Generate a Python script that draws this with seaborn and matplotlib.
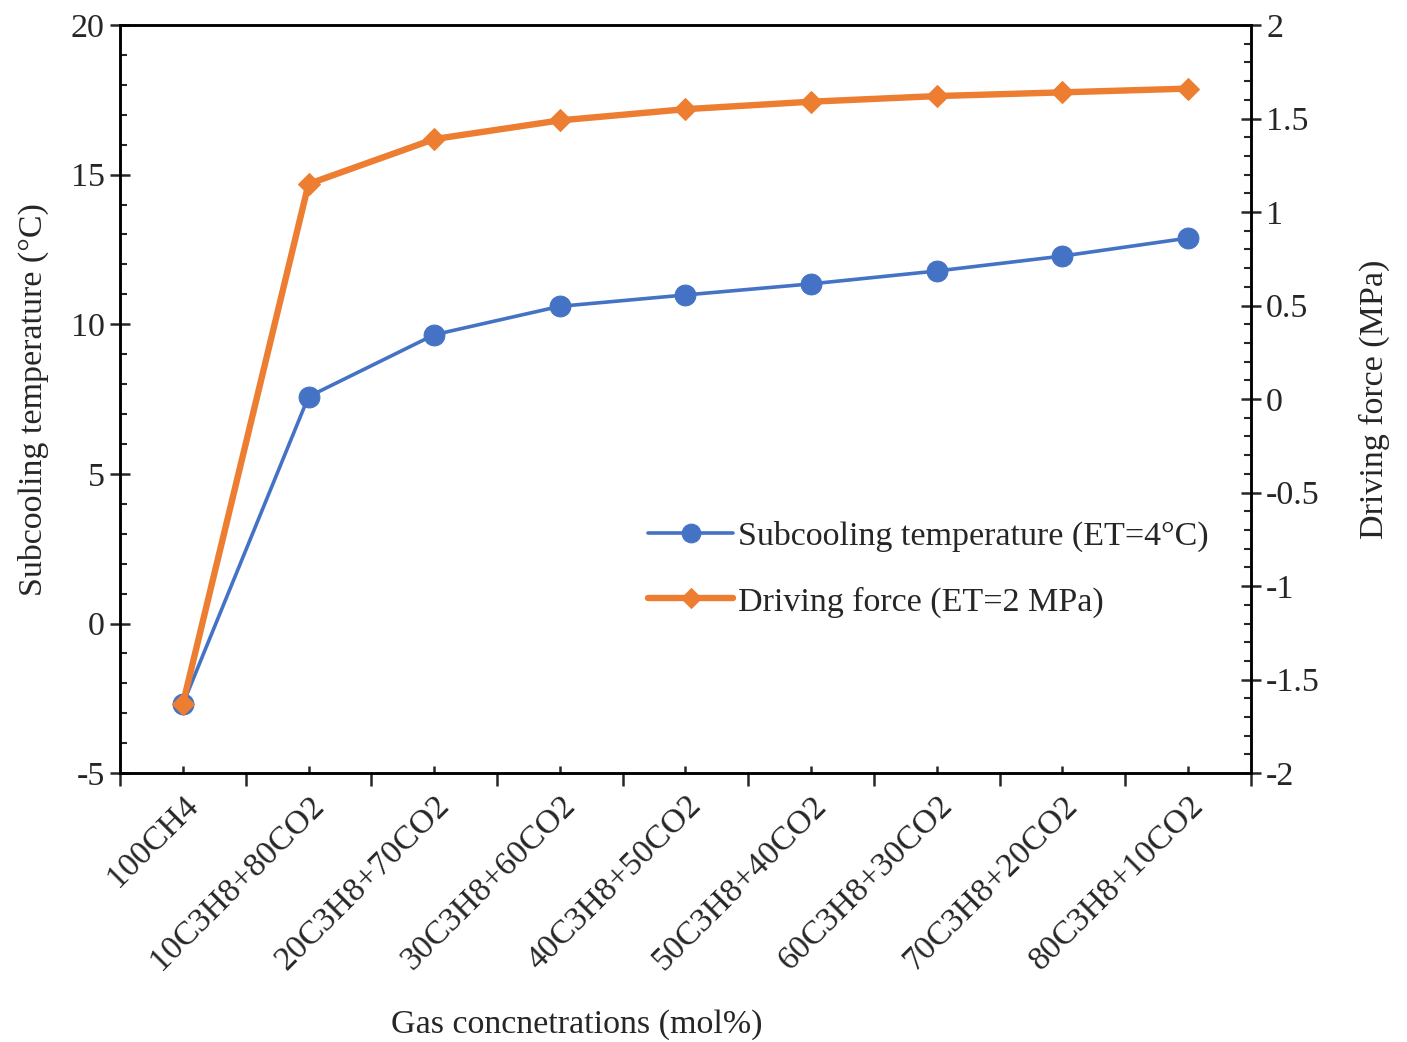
import matplotlib
matplotlib.use("Agg")
import matplotlib.pyplot as plt
import numpy as np
import pandas as pd
import seaborn as sns
from matplotlib.ticker import MultipleLocator, FixedLocator

# ── Data ──────────────────────────────────────────────────────────────────────
categories = [
    "100CH4", "10C3H8+80CO2", "20C3H8+70CO2", "30C3H8+60CO2", "40C3H8+50CO2",
    "50C3H8+40CO2", "60C3H8+30CO2", "70C3H8+20CO2", "80C3H8+10CO2",
]
subcooling = [-2.7, 7.58, 9.65, 10.6, 10.98, 11.35, 11.78, 12.28, 12.88]
driving_force = [-1.63, 1.15, 1.39, 1.49, 1.55, 1.59, 1.62, 1.64, 1.66]

BLUE = "#4472C4"
ORANGE = "#ED7D31"
FS = 24.5

df = pd.DataFrame({
    "pos": np.arange(len(categories)),
    "subcooling": subcooling,
    "driving": driving_force,
})

# ── Style ─────────────────────────────────────────────────────────────────────
sns.set_style("ticks")
plt.rcParams["font.family"] = ["Liberation Serif", "DejaVu Serif"]
plt.rcParams["axes.unicode_minus"] = False

fig = plt.figure(figsize=(14.07, 10.42), dpi=100)
ax = fig.add_axes([0.0853, 0.258, 0.8038, 0.718])
ax2 = ax.twinx()

sns.lineplot(data=df, x="pos", y="subcooling", ax=ax, color=BLUE, lw=2.6,
             marker="o", markersize=15, markeredgecolor=BLUE,
             label="Subcooling temperature (ET=4°C)", legend=False)
sns.lineplot(data=df, x="pos", y="driving", ax=ax2, color=ORANGE, lw=4.6,
             marker="D", markersize=11, markeredgecolor=ORANGE,
             label="Driving force (ET=2 MPa)", legend=False)

# ── Axes ──────────────────────────────────────────────────────────────────────
ax.set_xlim(-0.5, len(categories) - 0.5)
ax.set_ylim(-5, 20)
ax2.set_ylim(-2, 2)

ax.yaxis.set_major_locator(MultipleLocator(5))
ax.yaxis.set_minor_locator(MultipleLocator(1))
ax2.yaxis.set_major_locator(MultipleLocator(0.5))
ax2.yaxis.set_minor_locator(MultipleLocator(0.1))
ax2.set_yticklabels([f"{v:g}" for v in ax2.get_yticks()])

ax.xaxis.set_major_locator(FixedLocator(np.arange(len(categories) + 1) - 0.5))
ax.xaxis.set_minor_locator(FixedLocator(np.arange(len(categories))))
ax.set_xticklabels([])
ax.set_xticks(np.arange(len(categories)), labels=categories, minor=True)

for a in (ax, ax2):
    for s in a.spines.values():
        s.set_linewidth(1.8)
        s.set_color("black")

ax.tick_params(axis="y", which="major", direction="inout", length=14, width=1.8,
               labelsize=FS, pad=4)
ax.tick_params(axis="y", which="minor", direction="in", length=5, width=1.5)
ax2.tick_params(axis="y", which="major", direction="inout", length=14, width=1.8,
                labelsize=FS, pad=4)
ax2.tick_params(axis="y", which="minor", direction="in", length=5, width=1.5)
ax.tick_params(axis="x", which="major", direction="out", length=9, width=1.8)
ax.tick_params(axis="x", which="minor", direction="in", length=5, width=1.8,
               labelsize=FS, pad=12)
plt.setp(ax.get_xticklabels(minor=True), rotation=45, ha="right",
         rotation_mode="anchor")

ax.set_xlabel("Gas concnetrations (mol%)", fontsize=FS)
ax.xaxis.set_label_coords(0.404, -0.315)
ax.set_ylabel("Subcooling temperature (°C)", fontsize=FS, labelpad=16)
ax2.set_ylabel("Driving force (MPa)", fontsize=FS, labelpad=28)

# ── Legend ────────────────────────────────────────────────────────────────────
h1, l1 = ax.get_legend_handles_labels()
h2, l2 = ax2.get_legend_handles_labels()
ax2.legend(h1 + h2, l1 + l2, loc="upper left", bbox_to_anchor=(0.44, 0.378),
           frameon=False, fontsize=FS, handlelength=2.5, handletextpad=0.15,
           labelspacing=1.0, markerscale=0.9)

fig.savefig("out.png", dpi=100)
